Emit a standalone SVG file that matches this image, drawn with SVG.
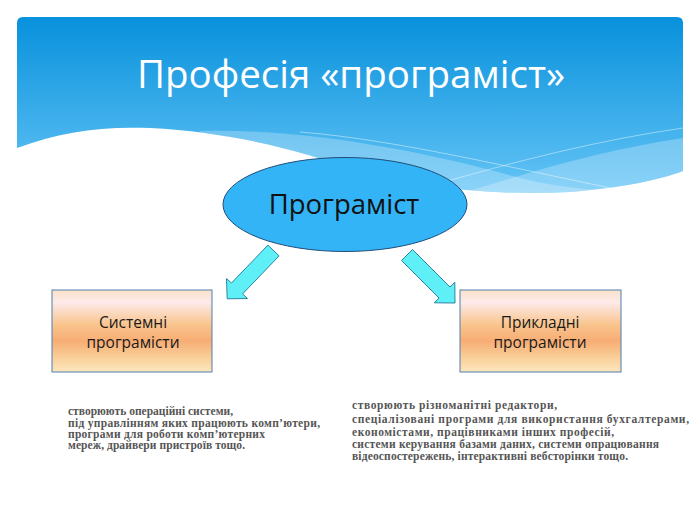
<svg xmlns="http://www.w3.org/2000/svg" width="700" height="525" viewBox="0 0 700 525">
<defs>
<linearGradient id="hdr" x1="0" y1="17" x2="0" y2="196" gradientUnits="userSpaceOnUse">
<stop offset="0" stop-color="#0891DC"/>
<stop offset="1" stop-color="#66C5F6"/>
</linearGradient>
<linearGradient id="box" x1="0" y1="0" x2="0" y2="1">
<stop offset="0" stop-color="#FBE2C8"/>
<stop offset="0.15" stop-color="#FDEAEA"/>
<stop offset="0.42" stop-color="#F9C58E"/>
<stop offset="0.62" stop-color="#F7AD74"/>
<stop offset="0.85" stop-color="#FAD39E"/>
<stop offset="1" stop-color="#FCE6BE"/>
</linearGradient>
<path id="hshape" d="M17,23 Q17,17 23,17 L677,17 Q683,17 683,23 L683,171 C660,180 620,188 570,192 C500,196 420,188 360,172 C300,150 230,132 150,128 C100,126 60,132 17,148 Z"/>
<clipPath id="hclip"><use href="#hshape"/></clipPath>
</defs>
<style>
.node-box{fill:url(#box);stroke:#4F7FB0;stroke-width:1}
.box-text{font-family:"Open Sans","Noto Sans",sans-serif;font-size:15.5px;fill:#1a1a1a;text-anchor:middle}
.arrow{fill:#5EF0F6;stroke:#2C86A3;stroke-width:1;stroke-linejoin:miter}
.note{font-family:"Liberation Serif","DejaVu Serif",serif;font-weight:bold;font-size:11.5px;fill:#555555}
.band{fill:#ffffff;opacity:0.25}
.thin{fill:none;stroke:#ffffff;stroke-width:0.8;opacity:0.55}
</style>
<rect width="700" height="525" fill="#ffffff"/>
<g id="header">
<use href="#hshape" fill="url(#hdr)"/>
<g clip-path="url(#hclip)">
<path class="band" d="M200,131 C300,128 420,150 520,178 C560,188 600,192 640,190 L683,180 L683,210 L200,210 Z"/>
<path class="band" d="M440,200 C520,175 600,150 683,138 L683,210 L440,210 Z"/>
<path class="thin" d="M300,132 C400,140 520,170 640,194"/>
<path class="thin" d="M430,186 C520,160 600,140 683,128"/>
</g>
<text x="351" y="88" text-anchor="middle" font-family="Open Sans, Noto Sans, sans-serif" font-size="38.5" fill="#ffffff">Професія «програміст»</text>
</g>
<g id="connectors">
<polygon class="arrow" points="267.9,245.1 231.4,283.1 226.5,278.5 227.2,298.8 247.5,298.5 242.6,293.9 279.1,255.9"/>
<polygon class="arrow" points="412.5,249.5 450.0,287.0 454.8,282.2 455.0,303.0 434.3,302.8 439.0,298.0 401.5,260.5"/>
</g>
<g id="node-programmer">
<ellipse cx="345" cy="204.5" rx="122" ry="47" fill="#33B4F7" stroke="#1F4E79" stroke-width="1"/>
<text x="344" y="214" text-anchor="middle" font-family="Open Sans, Noto Sans, sans-serif" font-size="27.5" fill="#111111">Програміст</text>
</g>
<g id="node-system">
<rect class="node-box" x="52" y="290" width="160" height="82"/>
<text class="box-text" x="133" y="328">Системні</text>
<text class="box-text" x="133" y="348">програмісти</text>
</g>
<g id="node-applied">
<rect class="node-box" x="460" y="290" width="161" height="82"/>
<text class="box-text" x="540" y="328">Прикладні</text>
<text class="box-text" x="540" y="348">програмісти</text>
</g>
<g id="note-system">
<text class="note" x="68" y="415" textLength="165" lengthAdjust="spacing">створюють операційні системи,</text>
<text class="note" x="68" y="427" textLength="252" lengthAdjust="spacing">під управлінням яких працюють комп’ютери,</text>
<text class="note" x="68" y="438" textLength="197" lengthAdjust="spacing">програми для роботи комп’ютерних</text>
<text class="note" x="68" y="449" textLength="177" lengthAdjust="spacing">мереж, драйвери пристроїв тощо.</text>
</g>
<g id="note-applied">
<text class="note" x="352" y="409" textLength="205" lengthAdjust="spacing">створюють різноманітні редактори,</text>
<text class="note" x="352" y="423" textLength="337" lengthAdjust="spacing">спеціалізовані програми для використання бухгалтерами,</text>
<text class="note" x="352" y="436" textLength="262" lengthAdjust="spacing">економістами, працівниками інших професій,</text>
<text class="note" x="352" y="448" textLength="307" lengthAdjust="spacing">системи керування базами даних, системи опрацювання</text>
<text class="note" x="352" y="460" textLength="276" lengthAdjust="spacing">відеоспостережень, інтерактивні вебсторінки тощо.</text>
</g>
</svg>
